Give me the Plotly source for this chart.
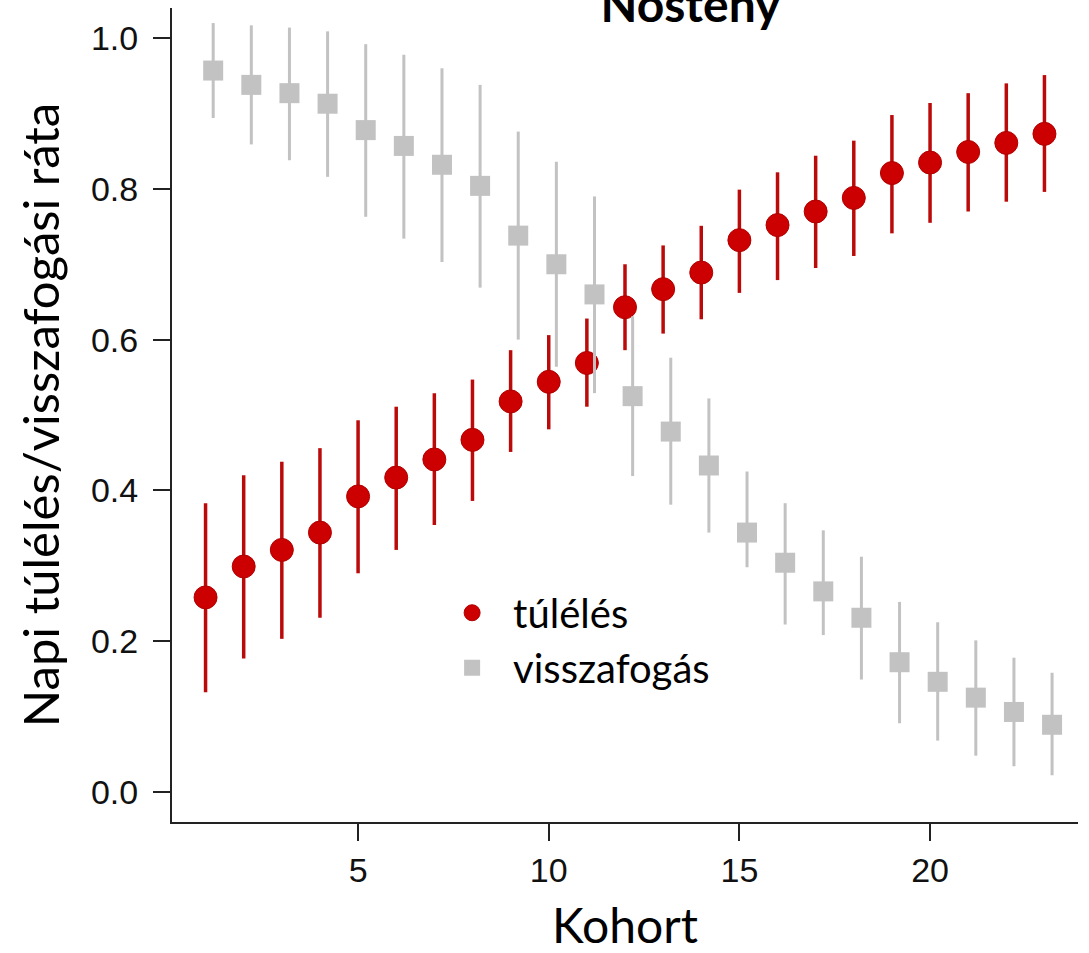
import plotly.graph_objects as go

# ---- data ----
cohort = list(range(1, 24))

surv = [0.258, 0.299, 0.321, 0.344, 0.392, 0.417, 0.441, 0.467, 0.518, 0.544, 0.569,
        0.643, 0.667, 0.689, 0.732, 0.752, 0.770, 0.788, 0.821, 0.835, 0.849, 0.861, 0.873]
surv_lo = [0.132, 0.177, 0.203, 0.231, 0.290, 0.321, 0.354, 0.386, 0.451, 0.481, 0.511,
           0.586, 0.608, 0.627, 0.662, 0.679, 0.695, 0.711, 0.741, 0.755, 0.770, 0.783, 0.796]
surv_hi = [0.383, 0.420, 0.438, 0.456, 0.493, 0.511, 0.529, 0.547, 0.586, 0.606, 0.628,
           0.700, 0.725, 0.751, 0.799, 0.822, 0.844, 0.864, 0.898, 0.914, 0.927, 0.940, 0.951]

recap = [0.957, 0.938, 0.927, 0.913, 0.878, 0.857, 0.832, 0.804, 0.738, 0.700, 0.660,
         0.525, 0.478, 0.433, 0.344, 0.304, 0.266, 0.231, 0.172, 0.146, 0.125, 0.106, 0.089]
recap_lo = [0.894, 0.859, 0.838, 0.816, 0.763, 0.734, 0.703, 0.669, 0.600, 0.564, 0.529,
            0.419, 0.381, 0.344, 0.298, 0.222, 0.208, 0.149, 0.091, 0.068, 0.048, 0.034, 0.022]
recap_hi = [1.020, 1.017, 1.014, 1.009, 0.992, 0.978, 0.960, 0.938, 0.876, 0.836, 0.790,
            0.631, 0.576, 0.522, 0.425, 0.383, 0.347, 0.312, 0.252, 0.225, 0.201, 0.178, 0.158]

y_ticks = [0.0, 0.2, 0.4, 0.6, 0.8, 1.0]
x_ticks = [5, 10, 15, 20]

title_text = "Nőstény"
x_title = "Kohort"
y_title = "Napi túlélés/visszafogási ráta"
names = ["túlélés", "visszafogás"]

# ---- styling ----
RED = "#CC0000"
RED_BAR = "#BB0A0A"
GREY = "#C2C2C2"
dodge = 0.2
TXT_FONT = "Lato, Calibri, Carlito, sans-serif"
TICK_FONT = "Liberation Sans, Arial, sans-serif"

fig = go.Figure()

fig.add_trace(go.Scatter(
    x=cohort, y=surv, mode="markers", name=names[0],
    marker=dict(symbol="circle", size=23, color=RED, line=dict(width=1, color="#B00000")),
    error_y=dict(type="data", symmetric=False,
                 array=[h - m for h, m in zip(surv_hi, surv)],
                 arrayminus=[m - l for m, l in zip(surv, surv_lo)],
                 color=RED_BAR, thickness=3.5, width=0),
))

fig.add_trace(go.Scatter(
    x=[c + dodge for c in cohort], y=recap, mode="markers", name=names[1],
    marker=dict(symbol="square", size=20, color=GREY, line=dict(width=0)),
    error_y=dict(type="data", symmetric=False,
                 array=[h - m for h, m in zip(recap_hi, recap)],
                 arrayminus=[m - l for m, l in zip(recap, recap_lo)],
                 color=GREY, thickness=3, width=0),
))

fig.update_layout(
    width=1089, height=953,
    margin=dict(l=172, r=11, t=8, b=131, autoexpand=False),
    paper_bgcolor="white", plot_bgcolor="white",
    title=dict(text=title_text, x=0.634, xanchor="center",
               y=0.995, yref="container", yanchor="middle",
               font=dict(family=TXT_FONT, size=48, color="black", weight="bold")),
    showlegend=True,
    legend=dict(x=0.286, y=0.297, xanchor="left", yanchor="top",
                bgcolor="rgba(0,0,0,0)", itemwidth=72, itemsizing="trace",
                font=dict(family=TXT_FONT, size=40, color="black"),
                tracegroupgap=0),
    xaxis=dict(range=[0.12, 23.88], tickvals=x_ticks, ticktext=[str(v) for v in x_ticks],
               automargin=False,
               showline=True, linecolor="#222", linewidth=2, mirror=False,
               ticks="outside", ticklen=17, tickwidth=2, tickcolor="#222",
               showgrid=False, zeroline=False,
               tickfont=dict(family=TICK_FONT, size=34, color="#111"),
               title=dict(text=x_title, standoff=33,
                          font=dict(family=TXT_FONT, size=48, color="black"))),
    yaxis=dict(range=[-0.04, 1.04], tickvals=y_ticks,
               ticktext=[f"{v:.1f}" for v in y_ticks],
               automargin=False,
               showline=True, linecolor="#222", linewidth=2, mirror=False,
               ticks="outside", ticklen=17, tickwidth=2, tickcolor="#222",
               showgrid=False, zeroline=False, ticklabelstandoff=8,
               tickfont=dict(family=TICK_FONT, size=34, color="#111"),
               title=dict(text=y_title, standoff=16,
                          font=dict(family=TXT_FONT, size=49, color="black"))),
)

fig.write_html("out.html")
